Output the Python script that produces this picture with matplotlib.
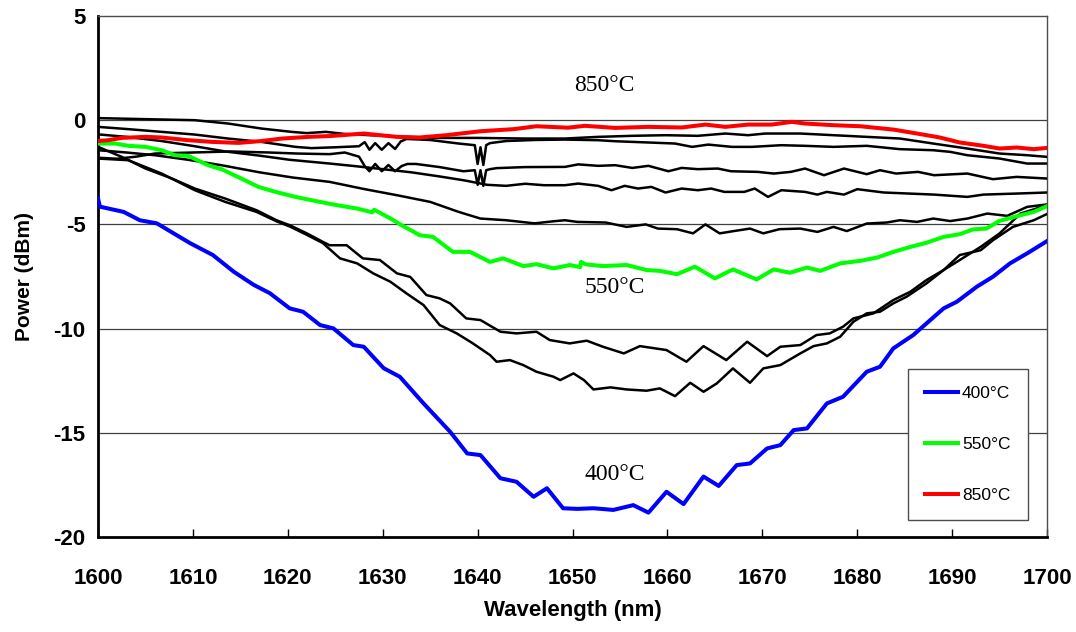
import matplotlib
matplotlib.use("Agg")
import matplotlib.pyplot as plt

# ---- measured transmission spectra -------------------------------------
# annealed samples shown in colour
wl_400 = [1600.0, 1600.2, 1602.7, 1604.4, 1606.2, 1609.7, 1612.1, 1614.3, 1616.4, 1618.1,
          1620.2, 1621.6, 1623.4, 1624.8, 1626.9, 1628.0, 1630.1, 1631.8, 1634.3, 1637.1,
          1638.9, 1640.3, 1642.4, 1644.1, 1645.9, 1647.3, 1649.0, 1650.5, 1652.2, 1654.3,
          1656.4, 1658.0, 1659.9, 1661.7, 1663.8, 1665.4, 1667.3, 1668.7, 1670.5, 1671.9,
          1673.3, 1674.7, 1676.8, 1678.5, 1681.0, 1682.4, 1683.8, 1685.9, 1687.3, 1689.1,
          1690.5, 1692.6, 1694.3, 1696.1, 1697.9, 1700.0]
p_400 = [-3.75, -4.15, -4.4, -4.8, -4.95, -5.9, -6.47, -7.27, -7.9, -8.3,
         -9.03, -9.19, -9.83, -9.99, -10.79, -10.87, -11.9, -12.31, -13.59, -14.95,
         -15.99, -16.07, -17.18, -17.35, -18.07, -17.66, -18.62, -18.65, -18.62, -18.7,
         -18.47, -18.83, -17.83, -18.42, -17.1, -17.55, -16.55, -16.47, -15.75, -15.59,
         -14.87, -14.79, -13.59, -13.27, -12.07, -11.83, -10.95, -10.31, -9.75, -9.03,
         -8.71, -7.99, -7.51, -6.87, -6.39, -5.8]

wl_550 = [1600.0, 1601.8, 1603.2, 1605.0, 1606.7, 1608.1, 1609.5, 1611.6, 1613.0, 1615.1,
          1616.9, 1618.7, 1620.8, 1622.5, 1624.3, 1625.2, 1627.3, 1628.9, 1629.1, 1630.8,
          1632.0, 1633.9, 1635.3, 1637.4, 1639.2, 1641.3, 1642.7, 1644.8, 1646.2, 1648.0,
          1649.7, 1650.8, 1650.9, 1651.4, 1653.2, 1655.7, 1657.8, 1659.2, 1661.0, 1662.9,
          1665.0, 1666.9, 1669.4, 1671.2, 1672.9, 1674.7, 1676.1, 1678.2, 1680.3, 1682.1,
          1683.8, 1685.6, 1687.3, 1689.1, 1690.8, 1692.2, 1693.6, 1695.0, 1697.2, 1698.6,
          1700.0]
p_550 = [-1.12, -1.12, -1.23, -1.28, -1.44, -1.68, -1.71, -2.16, -2.35, -2.8,
         -3.2, -3.44, -3.68, -3.84, -4.0, -4.08, -4.24, -4.42, -4.3, -4.71,
         -5.04, -5.52, -5.6, -6.32, -6.32, -6.8, -6.63, -7.0, -6.91, -7.11,
         -6.95, -7.05, -6.8, -6.92, -7.0, -6.95, -7.19, -7.23, -7.39, -7.03,
         -7.59, -7.16, -7.64, -7.16, -7.32, -7.07, -7.23, -6.87, -6.75, -6.59,
         -6.32, -6.08, -5.88, -5.6, -5.47, -5.24, -5.2, -4.83, -4.56, -4.4,
         -4.12]

wl_850 = [1600.0, 1601.1, 1602.5, 1605.0, 1606.7, 1609.5, 1612.0, 1614.8, 1617.2, 1619.4,
          1622.2, 1624.5, 1628.0, 1631.5, 1633.9, 1636.7, 1640.3, 1643.8, 1646.2, 1649.5,
          1651.3, 1654.5, 1658.0, 1661.5, 1664.0, 1666.1, 1668.5, 1671.0, 1673.1, 1674.5,
          1677.5, 1680.3, 1683.8, 1686.3, 1688.7, 1690.8, 1693.3, 1695.0, 1696.8, 1698.6,
          1700.0]
p_850 = [-1.0, -0.96, -0.85, -0.8, -0.83, -0.96, -1.04, -1.09, -1.0, -0.88,
         -0.8, -0.76, -0.64, -0.8, -0.83, -0.72, -0.53, -0.43, -0.29, -0.36,
         -0.27, -0.37, -0.32, -0.35, -0.21, -0.32, -0.21, -0.21, -0.08, -0.16,
         -0.24, -0.29, -0.45, -0.64, -0.83, -1.07, -1.23, -1.36, -1.31, -1.39,
         -1.33]

# intermediate annealing steps (black traces)
wl_a = [1600, 1605, 1610.2, 1613.7, 1617.2, 1620.4, 1622, 1624, 1626, 1630, 1635, 1640, 1645,
        1649.2, 1652.7, 1656.3, 1659.8, 1663.2, 1666.1, 1668.5, 1670.3, 1674, 1677.5, 1681,
        1684.5, 1688, 1691.6, 1695, 1697.9, 1700]
p_a = [0.1, 0.05, 0.0, -0.16, -0.4, -0.56, -0.62, -0.56, -0.66, -0.75, -0.85, -0.85, -0.88,
       -0.88, -0.8, -0.75, -0.72, -0.75, -0.64, -0.72, -0.64, -0.64, -0.72, -0.8,
       -0.88, -1.12, -1.36, -1.6, -1.68, -1.76]

wl_b = [1600, 1603.2, 1606.7, 1610.2, 1613.7, 1617.2, 1620.8, 1622.5, 1625, 1627.5, 1628.1,
        1628.6, 1629.2, 1629.9, 1630.6, 1631.3, 1631.9, 1632.5, 1635, 1638, 1639.7, 1640.0,
        1640.3, 1640.6, 1640.9, 1641.3, 1643, 1646, 1649.2, 1652.7, 1654.5, 1658, 1660.8,
        1662.6, 1664.3, 1666.8, 1668.9, 1672, 1674.5, 1677.5, 1681, 1684.5, 1688, 1689.8,
        1691.6, 1695, 1697.9, 1700]
p_b = [-0.32, -0.43, -0.56, -0.69, -0.88, -1.04, -1.28, -1.34, -1.3, -1.25, -1.05,
       -1.42, -1.1, -1.42, -1.1, -1.38, -1.02, -0.9, -0.95, -1.12, -1.2, -2.1,
       -1.3, -2.15, -1.2, -1.1, -1.0, -0.95, -0.93, -0.96, -1.01, -1.07, -1.12,
       -1.28, -1.17, -1.28, -1.28, -1.2, -1.23, -1.28, -1.23, -1.39, -1.44, -1.52,
       -1.68, -1.84, -2.08, -2.08]

wl_c = [1600, 1602, 1604, 1606, 1610, 1614, 1618, 1621, 1624.4, 1626, 1627.5, 1628.1, 1628.6,
        1629.2, 1629.9, 1630.6, 1631.3, 1632, 1632.6, 1633.5, 1636, 1638.5, 1639.7, 1640.0,
        1640.3, 1640.6, 1640.9, 1641.3, 1642, 1645, 1649.2, 1650.6, 1652.7, 1654.5, 1656.3,
        1658, 1660.1, 1661.5, 1663.2, 1665.3, 1666.7, 1669.5, 1671.2, 1673, 1674.5, 1676.5,
        1678.6, 1681, 1682.4, 1684.1, 1686.4, 1688.1, 1691.6, 1694.3, 1696.8, 1700]
p_c = [-1.8, -1.85, -1.75, -1.6, -1.55, -1.5, -1.55, -1.6, -1.63, -1.55, -1.75, -2.2, -2.45,
       -2.1, -2.45, -2.15, -2.45, -2.2, -2.1, -2.1, -2.25, -2.45, -2.4, -3.1,
       -2.4, -3.15, -2.4, -2.35, -2.3, -2.25, -2.24, -2.12, -2.19, -2.16, -2.29,
       -2.19, -2.45, -2.29, -2.35, -2.32, -2.45, -2.48, -2.56, -2.48, -2.32, -2.64,
       -2.32, -2.59, -2.4, -2.56, -2.48, -2.64, -2.56, -2.83, -2.72, -2.8]

wl_d = [1600, 1603, 1606.7, 1610.2, 1613.4, 1617, 1620.2, 1624.4, 1627, 1630, 1633, 1636,
        1638.5, 1641, 1643, 1645, 1647, 1649.2, 1650.6, 1652.7, 1654.1, 1655.5, 1656.9,
        1658.3, 1659.8, 1661.5, 1663.2, 1664.6, 1666, 1668.1, 1669.2, 1670.6, 1672, 1674.5,
        1675.8, 1676.8, 1678.6, 1680, 1682.8, 1688.1, 1691.6, 1693.3, 1696.8, 1700]
p_d = [-0.68, -0.8, -1.0, -1.25, -1.5, -1.7, -1.9, -2.08, -2.2, -2.35, -2.5, -2.7,
       -2.88, -3.1, -3.15, -3.05, -3.12, -3.12, -3.04, -3.15, -3.36, -3.15, -3.28,
       -3.2, -3.47, -3.28, -3.36, -3.28, -3.44, -3.44, -3.28, -3.68, -3.36, -3.44,
       -3.57, -3.44, -3.57, -3.31, -3.47, -3.57, -3.68, -3.57, -3.52, -3.47]

wl_e = [1600, 1603, 1606, 1609.5, 1613, 1617, 1620.5, 1624.4, 1628, 1631.5, 1635, 1638,
        1640.3, 1643, 1646, 1648, 1649.2, 1650.5, 1653.5, 1655.7, 1657.7, 1659, 1661,
        1662.7, 1664, 1665.5, 1667, 1668.7, 1670.1, 1671.8, 1674, 1675.8, 1677.5, 1678.9,
        1681, 1683.1, 1684.5, 1686.3, 1688, 1689.8, 1691.6, 1693.7, 1695.8, 1697.9, 1700]
p_e = [-1.44, -1.55, -1.68, -1.9, -2.16, -2.5, -2.75, -2.96, -3.3, -3.6, -3.92, -4.4,
       -4.72, -4.8, -4.95, -4.85, -4.8, -4.88, -4.91, -5.12, -5.0, -5.2, -5.23,
       -5.43, -5.0, -5.43, -5.32, -5.2, -5.43, -5.23, -5.2, -5.36, -5.12, -5.32,
       -4.96, -4.91, -4.8, -4.88, -4.72, -4.84, -4.72, -4.48, -4.59, -4.16, -4.04]

wl_f = [1600, 1602.5, 1605, 1607.8, 1610.2, 1613.4, 1616.7, 1618.8, 1620.2, 1622, 1623.7,
        1624.4, 1626.2, 1627.9, 1629.7, 1631.5, 1632.9, 1634.6, 1636, 1637.1, 1638.8, 1640.3,
        1642.4, 1644.1, 1646.2, 1647.6, 1649.7, 1651.5, 1653.2, 1655.4, 1657.1, 1659.9, 1662,
        1663.8, 1666.2, 1668.4, 1670.5, 1671.9, 1674, 1675.7, 1677.1, 1678.5, 1679.6, 1681.7,
        1683.8, 1685.6, 1687.3, 1689.1, 1690.8, 1693, 1695, 1697.2, 1700]
p_f = [-1.28, -1.76, -2.32, -2.8, -3.28, -3.76, -4.32, -4.8, -5.04, -5.43, -5.84,
       -6.0, -6.0, -6.63, -6.71, -7.35, -7.52, -8.39, -8.55, -8.79, -9.51, -9.59,
       -10.15, -10.23, -10.15, -10.55, -10.71, -10.58, -10.87, -11.19, -10.84, -11.03, -11.59,
       -10.84, -11.51, -10.63, -11.32, -10.87, -10.79, -10.31, -10.23, -9.91, -9.51, -9.27,
       -8.63, -8.23, -7.67, -7.19, -6.71, -6.08, -5.43, -4.48, -4.08]

wl_g = [1600, 1603.2, 1606.7, 1610.2, 1613.4, 1616.7, 1618.8, 1620.2, 1622, 1623.7, 1625.5,
        1627.3, 1629, 1630.8, 1632.5, 1634.3, 1636, 1637.8, 1639.5, 1641.3, 1642, 1643.4,
        1644.8, 1646.2, 1648, 1648.7, 1650.1, 1651.2, 1652.2, 1654, 1655.7, 1657.8, 1659.2,
        1660.8, 1662.4, 1663.8, 1664.2, 1665.2, 1666.9, 1668.7, 1670.1, 1671.9, 1674, 1675.4,
        1676.8, 1678.2, 1679.6, 1681, 1682.4, 1683.8, 1685.2, 1687.3, 1689.1, 1690.8, 1693,
        1694.3, 1696.4, 1698.6, 1700]
p_g = [-1.84, -1.92, -2.56, -3.36, -3.92, -4.4, -4.85, -5.1, -5.5, -5.9, -6.63,
       -6.87, -7.35, -7.75, -8.31, -8.87, -9.83, -10.23, -10.71, -11.27, -11.59, -11.51,
       -11.75, -12.07, -12.31, -12.47, -12.15, -12.47, -12.92, -12.82, -12.92, -12.98, -12.87,
       -13.24, -12.6, -13.03, -12.92, -12.63, -11.91, -12.6, -11.91, -11.75, -11.19, -10.84,
       -10.71, -10.39, -9.67, -9.27, -9.19, -8.79, -8.47, -7.83, -7.19, -6.47, -6.24,
       -5.76, -5.12, -4.8, -4.5]

black_traces = [(wl_a, p_a), (wl_b, p_b), (wl_c, p_c), (wl_d, p_d),
                (wl_e, p_e), (wl_f, p_f), (wl_g, p_g)]
colour_traces = [(wl_400, p_400, "#0000FF", "400°C"),
                 (wl_550, p_550, "#00FF00", "550°C"),
                 (wl_850, p_850, "#FF0000", "850°C")]

x_ticks = [1600, 1610, 1620, 1630, 1640, 1650, 1660, 1670, 1680, 1690, 1700]
y_ticks = [-20, -15, -10, -5, 0, 5]

# text annotations: (label, wavelength, power)
annotations = [("850°C", 1653.4, 1.65), ("550°C", 1654.5, -8.05), ("400°C", 1654.5, -17.0)]

# ---- figure -------------------------------------------------------------
plt.rcParams["axes.unicode_minus"] = False
fig = plt.figure(figsize=(10.76, 6.32), dpi=100)
ax = fig.add_axes([0.0911, 0.1503, 0.8820, 0.8244])

for wl, p in black_traces:
    ax.plot(wl, p, color="black", lw=1.8, solid_joinstyle="round", zorder=3)
for wl, p, col, lab in colour_traces:
    ax.plot(wl, p, color=col, lw=2.9, solid_joinstyle="round", label=lab, zorder=4)

ax.set_xlim(1600, 1700)
ax.set_ylim(-20, 5)
ax.set_xticks(x_ticks)
ax.set_yticks(y_ticks)

for y in y_ticks[1:-1]:
    ax.axhline(y, color="0.25", lw=0.9, zorder=1)

tick_font = dict(family="Liberation Sans", weight="bold", size=16)
ax.set_xticklabels([str(v) for v in x_ticks], **tick_font)
ax.set_yticklabels([str(v) for v in y_ticks], **tick_font)
ax.tick_params(axis="x", direction="in", length=6, width=1, pad=22)
ax.tick_params(axis="y", direction="out", length=0, width=1, pad=9)

ax.set_xlabel("Wavelength (nm)", family="Liberation Sans", weight="bold", size=16, labelpad=8)
ax.set_ylabel("Power (dBm)", family="Liberation Sans", weight="bold", size=15, labelpad=14)

for side in ("left", "bottom"):
    ax.spines[side].set_linewidth(2.0)
    ax.spines[side].set_color("black")
for side in ("top", "right"):
    ax.spines[side].set_linewidth(1.0)
    ax.spines[side].set_color("0.3")

for text, x, y in annotations:
    ax.text(x, y, text, family="Liberation Serif", size=17, ha="center", va="center", zorder=5)

leg = ax.legend(loc="lower left", bbox_to_anchor=(0.8535, 0.0326), borderaxespad=0,
                prop=dict(family="Liberation Sans", size=12.5), handlelength=1.9,
                handletextpad=0.2, labelspacing=2.05, borderpad=1.0, fancybox=False,
                frameon=True, framealpha=1)
leg.get_frame().set_edgecolor("0.3")
leg.get_frame().set_linewidth(1.0)
leg.set_zorder(6)

fig.savefig("out.png", dpi=100, facecolor="white")
